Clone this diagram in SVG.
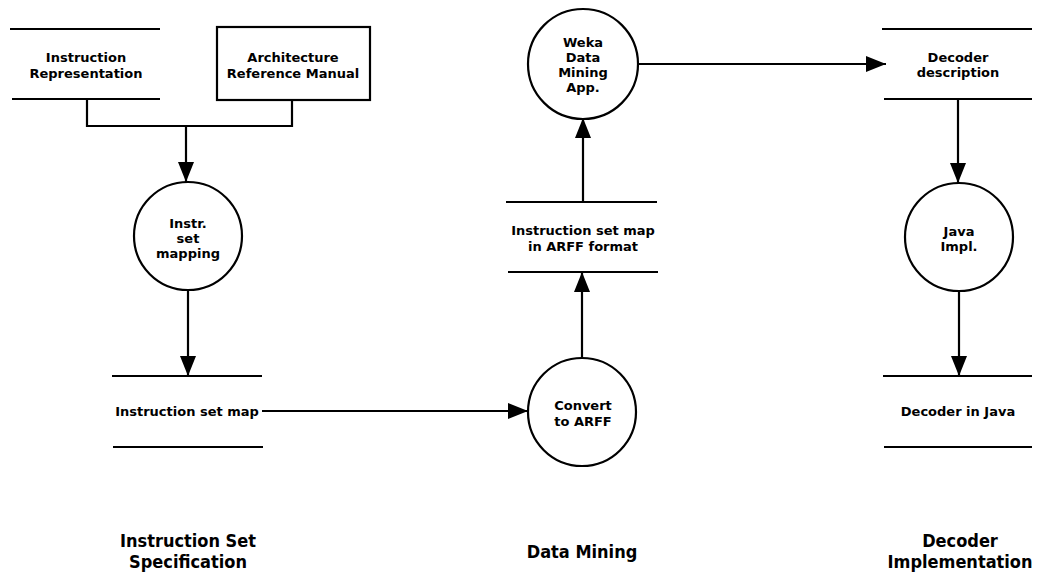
<svg xmlns="http://www.w3.org/2000/svg" width="1045" height="572" viewBox="0 0 1045 572">
  <style>
    .ln { stroke: #000; stroke-width: 2.2; fill: none; }
    .proc { stroke: #000; stroke-width: 2.2; fill: #fff; }
    .t { font-family: "DejaVu Sans", Verdana, sans-serif; font-weight: bold; font-size: 13px; fill: #000; text-anchor: middle; }
    .h { font-family: "DejaVu Sans Condensed", "DejaVu Sans", sans-serif; font-weight: bold; font-size: 18px; fill: #000; text-anchor: middle; }
  </style>
  <defs>
    <marker id="arr" viewBox="0 0 20 16" refX="20" refY="8" markerWidth="20" markerHeight="16" markerUnits="userSpaceOnUse" orient="auto">
      <path d="M0,0 L20,8 L0,16 Z" fill="#000"/>
    </marker>
  </defs>
  <rect width="1045" height="572" fill="#fff"/>

  <!-- flows -->
  <g id="connectors">
    <path class="ln" d="M87,99 V126 H292 V100"/>
    <path class="ln" d="M186,126 V182" marker-end="url(#arr)"/>
    <path class="ln" d="M188,290 V376" marker-end="url(#arr)"/>
    <path class="ln" d="M262,411 H528" marker-end="url(#arr)"/>
    <path class="ln" d="M582,358 V272" marker-end="url(#arr)"/>
    <path class="ln" d="M583,202 V118" marker-end="url(#arr)"/>
    <path class="ln" d="M638,64 H886" marker-end="url(#arr)"/>
    <path class="ln" d="M958,99 V183" marker-end="url(#arr)"/>
    <path class="ln" d="M959,291 V376" marker-end="url(#arr)"/>
  </g>

  <!-- data stores and processes -->
  <g id="store-instr-repr">
    <path class="ln" d="M10,29 H160 M12,99 H160"/>
    <text class="t" x="86" y="62">Instruction</text>
    <text class="t" x="86" y="78">Representation</text>
  </g>
  <g id="ext-arm">
    <rect class="proc" x="217" y="27" width="153" height="73"/>
    <text class="t" x="293" y="62">Architecture</text>
    <text class="t" x="293" y="78">Reference Manual</text>
  </g>
  <g id="proc-mapping">
    <circle class="proc" cx="188" cy="236" r="54"/>
    <text class="t" x="188" y="228">Instr.</text>
    <text class="t" x="188" y="243">set</text>
    <text class="t" x="188" y="258">mapping</text>
  </g>
  <g id="store-isa-map">
    <path class="ln" d="M112,376 H262 M113,447 H263"/>
    <text class="t" x="187" y="416">Instruction set map</text>
  </g>
  <g id="proc-convert">
    <circle class="proc" cx="582" cy="412" r="54"/>
    <text class="t" x="583" y="410">Convert</text>
    <text class="t" x="583" y="426">to ARFF</text>
  </g>
  <g id="store-arff">
    <path class="ln" d="M506,202 H657 M508,272 H658"/>
    <text class="t" x="583" y="235">Instruction set map</text>
    <text class="t" x="583" y="251">in ARFF format</text>
  </g>
  <g id="proc-weka">
    <circle class="proc" cx="583" cy="64" r="55"/>
    <text class="t" x="583" y="47">Weka</text>
    <text class="t" x="583" y="62">Data</text>
    <text class="t" x="583" y="77">Mining</text>
    <text class="t" x="583" y="92">App.</text>
  </g>
  <g id="store-decoder-desc">
    <path class="ln" d="M882,29 H1032 M884,99 H1032"/>
    <text class="t" x="958" y="62">Decoder</text>
    <text class="t" x="958" y="77">description</text>
  </g>
  <g id="proc-java">
    <circle class="proc" cx="959" cy="237" r="54"/>
    <text class="t" x="959" y="236">Java</text>
    <text class="t" x="959" y="251">Impl.</text>
  </g>
  <g id="store-decoder-java">
    <path class="ln" d="M883,376 H1032 M884,447 H1032"/>
    <text class="t" x="958" y="416">Decoder in Java</text>
  </g>

  <!-- phase captions -->
  <g id="captions">
    <text class="h" x="188" y="547">Instruction Set</text>
    <text class="h" x="188" y="568">Specification</text>
    <text class="h" x="582" y="558">Data Mining</text>
    <text class="h" x="960" y="547">Decoder</text>
    <text class="h" x="960" y="568">Implementation</text>
  </g>
</svg>
